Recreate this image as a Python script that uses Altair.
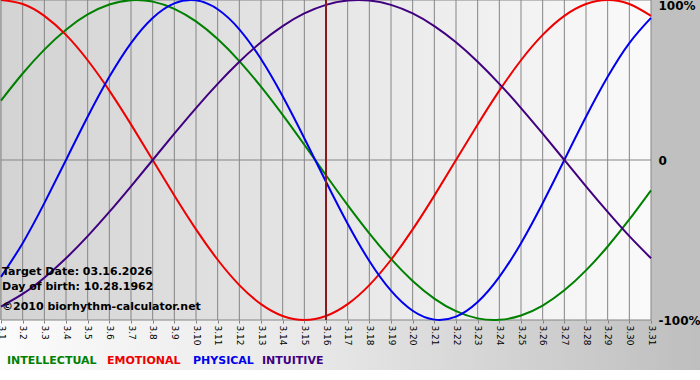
import altair as alt
import pandas as pd

# Day of month (March) on the x axis
days = [1, 2, 3, 4, 5, 6, 7, 8, 9, 10, 11, 12, 13, 14, 15, 16,
        17, 18, 19, 20, 21, 22, 23, 24, 25, 26, 27, 28, 29, 30, 31]

# Biorhythm values (-1 .. 1)
physical = [-0.7308, -0.5196, -0.2698, 0.0, 0.2698, 0.5196, 0.7308, 0.8879,
            0.9791, 0.9977, 0.9423, 0.8170, 0.6311, 0.3984, 0.1362, -0.1362,
            -0.3984, -0.6311, -0.8170, -0.9423, -0.9977, -0.9791, -0.8879, -0.7308,
            -0.5196, -0.2698, 0.0, 0.2698, 0.5196, 0.7308, 0.8879]
emotional = [1.0, 0.9749, 0.9010, 0.7818, 0.6235, 0.4339, 0.2225, 0.0,
             -0.2225, -0.4339, -0.6235, -0.7818, -0.9010, -0.9749, -1.0, -0.9749,
             -0.9010, -0.7818, -0.6235, -0.4339, -0.2225, 0.0, 0.2225, 0.4339,
             0.6235, 0.7818, 0.9010, 0.9749, 1.0, 0.9749, 0.9010]
intellectual = [0.3717, 0.5406, 0.6901, 0.8146, 0.9096, 0.9718, 0.9989, 0.9898,
                0.9450, 0.8660, 0.7557, 0.6182, 0.4582, 0.2817, 0.0951, -0.0951,
                -0.2817, -0.4582, -0.6182, -0.7557, -0.8660, -0.9450, -0.9898, -0.9989,
                -0.9718, -0.9096, -0.8146, -0.6901, -0.5406, -0.3717, -0.1893]
intuitive = [-0.9158, -0.8372, -0.7357, -0.6142, -0.4759, -0.3247, -0.1646, 0.0,
             0.1646, 0.3247, 0.4759, 0.6142, 0.7357, 0.8372, 0.9158, 0.9694,
             0.9966, 0.9966, 0.9694, 0.9158, 0.8372, 0.7357, 0.6142, 0.4759,
             0.3247, 0.1646, 0.0, -0.1646, -0.3247, -0.4759, -0.6142]

series_names = ["INTELLECTUAL", "EMOTIONAL", "PHYSICAL", "INTUITIVE"]
series_colors = ["#008000", "#ee0000", "#0000ee", "#400080"]
target_day = [16]
y_levels = [-1, 0, 1]

info_lines = ["Target Date: 03.16.2026", "Day of birth: 10.28.1962",
              "\u00a92010 biorhythm-calculator.net"]

rows = []
for name, vals in zip(series_names, [intellectual, emotional, physical, intuitive]):
    for d, v in zip(days, vals):
        rows.append({"day": d, "value": v, "series": name})
df = pd.DataFrame(rows)

W, H = 650, 320

xscale = alt.Scale(domain=[1, 31], nice=False, zero=False)
yscale = alt.Scale(domain=[-1, 1], nice=False, zero=False)

xaxis = alt.Axis(values=days, labelExpr="'3.' + datum.value",
                 labelAngle=90, labelFont="DejaVu Sans", labelFontSize=9,
                 labelColor="#000000", tickSize=3, tickColor="#808080",
                 domain=False, grid=False, labelPadding=2,
                 labelOverlap=False, labelBound=False, labelFlush=False,
                 labelSeparation=0, zindex=1)
yaxis = alt.Axis(orient="right", values=y_levels,
                 labelExpr="datum.value == 1 ? '100%' : (datum.value == 0 ? '0' : '-100%')",
                 labelFont="DejaVu Sans", labelFontWeight="bold",
                 labelFontSize=12, labelColor="#000000", labelPadding=7,
                 ticks=False, domain=False, grid=False, zindex=1,
                 labelOverlap=False, labelFlush=False,
                 labelBaseline={"condition": {"test": "datum.value == 1", "value": "top"},
                                "value": "middle"})

one = pd.DataFrame({"a": [0]})

plot_bg = alt.Chart(one).mark_rect(
    fill=alt.LinearGradient(
        gradient="linear", x1=0, x2=1, y1=0, y2=0,
        stops=[alt.GradientStop(color="#d3d3d3", offset=0),
               alt.GradientStop(color="#fafafa", offset=1)])
).encode(x=alt.value(0), x2=alt.value(W), y=alt.value(0), y2=alt.value(H))

bottom_bg = alt.Chart(one).mark_rect(
    fill=alt.LinearGradient(
        gradient="linear", x1=0, x2=1, y1=0, y2=0,
        stops=[alt.GradientStop(color="#fbfbfb", offset=0),
               alt.GradientStop(color="#e8e8e8", offset=0.45),
               alt.GradientStop(color="#bebebe", offset=1)])
).encode(x=alt.value(-1), x2=alt.value(699), y=alt.value(H), y2=alt.value(370))

vgrid = alt.Chart(pd.DataFrame({"day": days})).mark_rule(
    color="#858585", strokeWidth=1
).encode(x=alt.X("day:Q", scale=xscale, title=None, axis=xaxis))

hgrid = alt.Chart(pd.DataFrame({"value": y_levels})).mark_rule(
    color="#858585", strokeWidth=1
).encode(y=alt.Y("value:Q", scale=yscale, title=None, axis=yaxis))

curves = alt.Chart(df).mark_line(strokeWidth=2, interpolate="natural").encode(
    x=alt.X("day:Q", scale=xscale, title=None, axis=xaxis),
    y=alt.Y("value:Q", scale=yscale, title=None, axis=yaxis),
    color=alt.Color("series:N", scale=alt.Scale(domain=series_names, range=series_colors),
                    legend=None),
)

today = alt.Chart(pd.DataFrame({"day": target_day})).mark_rule(
    color="#8b1a1a", strokeWidth=2
).encode(x=alt.X("day:Q", scale=xscale, title=None, axis=xaxis))

layers = [plot_bg, bottom_bg, vgrid, hgrid, curves, today]

info_y = [272, 287, 307]
for txt, yy in zip(info_lines, info_y):
    layers.append(alt.Chart(one).mark_text(
        align="left", baseline="middle", font="DejaVu Sans", fontWeight="bold",
        fontSize=11, color="#000000"
    ).encode(x=alt.value(1), y=alt.value(yy), text=alt.value(txt)))

legend_x = [6, 106, 192, 261]
for name, col, xx in zip(series_names, series_colors, legend_x):
    layers.append(alt.Chart(one).mark_text(
        align="left", baseline="middle", font="DejaVu Sans", fontWeight="bold",
        fontSize=11, color=col
    ).encode(x=alt.value(xx), y=alt.value(361), text=alt.value(name)))

chart = alt.layer(*layers).properties(
    width=W, height=H,
    padding={"left": 1, "top": 0, "right": 49, "bottom": 50},
    autosize=alt.AutoSizeParams(type="none"),
).configure(background="#c0c0c0").configure_view(stroke=None).configure_axis(
    labelOverlap=False
)

chart.save("out.html", embed_options={"renderer": "svg", "actions": False})
